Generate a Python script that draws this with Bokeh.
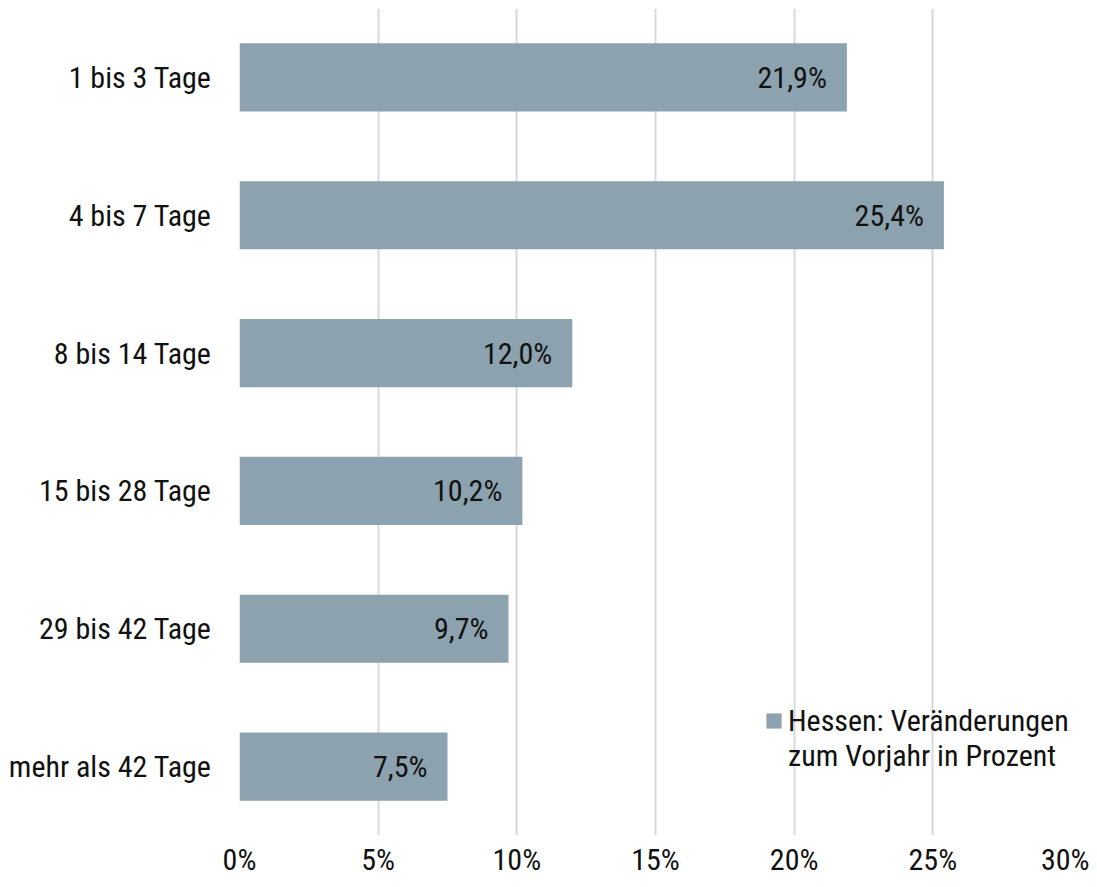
from bokeh.plotting import figure
from bokeh.models import ColumnDataSource, FactorRange, Range1d, NumeralTickFormatter, Legend, LegendItem, FixedTicker
from bokeh.core.properties import value
from bokeh.embed import file_html
from bokeh.resources import INLINE

categories = ["1 bis 3 Tage", "4 bis 7 Tage", "8 bis 14 Tage", "15 bis 28 Tage", "29 bis 42 Tage", "mehr als 42 Tage"]
values = [21.9, 25.4, 12.0, 10.2, 9.7, 7.5]
x_ticks = [0, 5, 10, 15, 20, 25, 30]
legend_lines = ["Hessen: Veränderungen", "zum Vorjahr in Prozent"]

FONT = "Roboto Condensed"
BAR = "#8CA2AE"
FS = "30px"

src = ColumnDataSource(dict(
    cat=categories,
    val=[v / 100 for v in values],
    lab=[f"{v:.1f}".replace(".", ",") + "%" for v in values],
))

p = figure(width=1089, height=879, output_backend="svg", toolbar_location=None,
           y_range=FactorRange(factors=categories[::-1], range_padding=0),
           x_range=Range1d(0, 0.30),
           min_border_left=239, min_border_right=18, min_border_top=8, min_border_bottom=43)
p.outline_line_color = None

r = p.hbar(y="cat", right="val", left=0, height=0.495, source=src, fill_color=BAR, line_color=None)
dummy = p.hbar(y=[], right=[], left=0, height=0.49, fill_alpha=0, line_alpha=0)
p.text(x="val", y="cat", text="lab", source=src, x_offset=-20, text_align="right",
       text_baseline="middle", text_font=value(FONT), text_font_size=FS, text_color="#111111")

p.xaxis.ticker = FixedTicker(ticks=[t / 100 for t in x_ticks])
p.xaxis.formatter = NumeralTickFormatter(format="0%")
for ax in (p.xaxis, p.yaxis):
    ax.axis_line_color = None
    ax.major_tick_line_color = None
    ax.minor_tick_line_color = None
    ax.major_label_text_font = FONT
    ax.major_label_text_font_size = FS
    ax.major_label_text_color = "#111111"
p.xaxis.major_label_standoff = 0
p.yaxis.major_label_standoff = 22

p.xgrid.grid_line_color = "#D9D9D9"
p.xgrid.grid_line_width = 2
p.ygrid.grid_line_color = None

legend = Legend(items=[LegendItem(label=legend_lines[0], renderers=[r]),
                       LegendItem(label=legend_lines[1], renderers=[dummy])],
                location=(525, 62), spacing=0,
                background_fill_alpha=0, border_line_alpha=0, padding=0, margin=0,
                glyph_width=19, glyph_height=19, label_height=35, label_text_font=FONT,
                label_text_font_size=FS, label_text_color="#111111", label_standoff=5,
                label_text_baseline="middle")
p.add_layout(legend, "center")

open("out.html", "w").write(file_html(p, INLINE))
